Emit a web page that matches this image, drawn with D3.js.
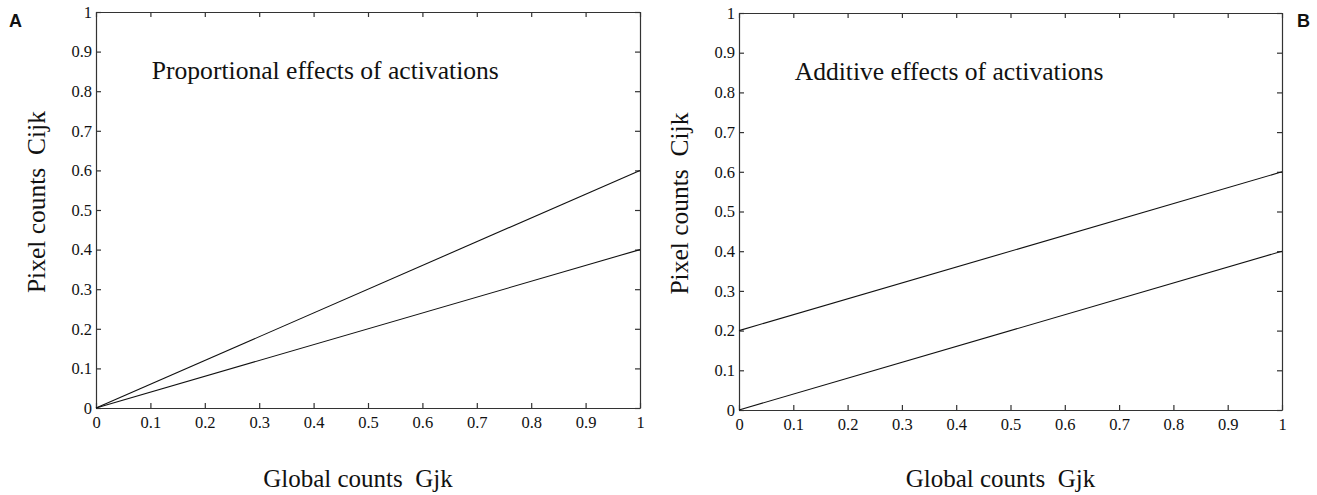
<!DOCTYPE html>
<html>
<head>
<meta charset="utf-8">
<script src="https://cdn.jsdelivr.net/npm/d3@7"></script>
<style>
  body { margin: 0; background: #fff; }
  svg text { font-family: "Liberation Serif", "Times New Roman", serif; fill: #111; white-space: pre; }
</style>
</head>
<body>
<div id="chart-area"></div>
<script>

// Chart data
let ticks = [0, 0.1, 0.2, 0.3, 0.4, 0.5, 0.6, 0.7, 0.8, 0.9, 1];
let tickLabels = ["0", "0.1", "0.2", "0.3", "0.4", "0.5", "0.6", "0.7", "0.8", "0.9", "1"];
let panelLetters = ["A", "B"];
let panelTitles = ["Proportional effects of activations", "Additive effects of activations"];
let xLabel = "Global counts  Gjk";
let yLabel = "Pixel counts  Cijk";

// each line: value at G = 0 and at G = 1
let linesA = [[0, 0.6], [0, 0.4]];
let linesB = [[0.2, 0.6], [0, 0.4]];

let width = 1317,
	height = 495;

let svg = d3.select("#chart-area").append("svg")
	.attr("width", width)
	.attr("height", height);

// panel boxes (pixels)
let panels = [
	{left: 96, right: 640, top: 12, bottom: 408, lines: linesA, letterX: 9},
	{left: 739, right: 1282, top: 13, bottom: 410, lines: linesB, letterX: 1297}
];

panels.forEach((p, i) => drawPanel(p, i));

function drawPanel(p, i) {

	let x = d3.scaleLinear().domain([0, 1]).range([p.left, p.right]);
	let y = d3.scaleLinear().domain([0, 1]).range([p.bottom, p.top]);

	let fmt = d => tickLabels[ticks.indexOf(d)];

	let g = svg.append("g");

	let styleAxis = sel => {
		sel.select(".domain").attr("stroke", "#333").attr("stroke-width", 1.2);
		sel.selectAll(".tick line").attr("stroke", "#333").attr("stroke-width", 1.2);
		sel.selectAll("text")
			.style("font-family", '"Liberation Serif", "Times New Roman", serif')
			.style("font-size", "16.5px")
			.attr("fill", "#111");
	};

	g.append("g")
		.attr("transform", "translate(0," + p.bottom + ")")
		.call(d3.axisBottom(x).tickValues(ticks).tickFormat(fmt).tickSizeInner(-5).tickSizeOuter(0).tickPadding(8))
		.call(styleAxis);

	g.append("g")
		.attr("transform", "translate(" + p.left + ",0)")
		.call(d3.axisLeft(y).tickValues(ticks).tickFormat(fmt).tickSizeInner(-5).tickSizeOuter(0).tickPadding(4))
		.call(styleAxis);

	g.append("g")
		.attr("transform", "translate(0," + p.top + ")")
		.call(d3.axisTop(x).tickValues(ticks).tickFormat("").tickSizeInner(-5).tickSizeOuter(0))
		.call(styleAxis);

	g.append("g")
		.attr("transform", "translate(" + p.right + ",0)")
		.call(d3.axisRight(y).tickValues(ticks).tickFormat("").tickSizeInner(-5).tickSizeOuter(0))
		.call(styleAxis);

	// the lines
	g.selectAll(".effect-line").data(p.lines)
		.enter()
		.append("line")
		.attr("class", "effect-line")
		.attr("x1", x(0))
		.attr("y1", d => y(d[0]))
		.attr("x2", x(1))
		.attr("y2", d => y(d[1]))
		.attr("stroke", "#111")
		.attr("stroke-width", 1.1);

	// title inside plot
	g.append("text")
		.attr("x", x(0.1025))
		.attr("y", y(0.83))
		.style("font-size", "25.6px")
		.text(panelTitles[i]);

	// axis labels
	g.append("text")
		.attr("x", x(0.5) - 10)
		.attr("y", 487)
		.attr("text-anchor", "middle")
		.style("font-size", "25px")
		.text(xLabel);

	g.append("text")
		.attr("transform", "translate(" + (p.left - 51) + "," + y(0.52) + ") rotate(-90)")
		.attr("text-anchor", "middle")
		.style("font-size", "25.5px")
		.text(yLabel);

	// panel letter
	g.append("text")
		.attr("x", p.letterX)
		.attr("y", 27)
		.style("font-family", '"Liberation Sans", Arial, sans-serif')
		.style("font-weight", "bold")
		.style("font-size", "18px")
		.style("white-space", "normal")
		.text(panelLetters[i]);
}

</script>
</body>
</html>
